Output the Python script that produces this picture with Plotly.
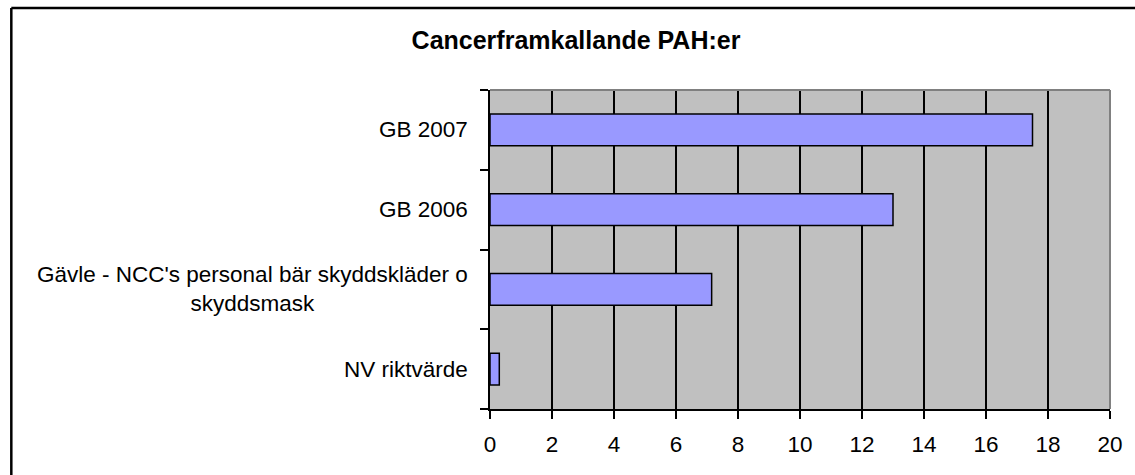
import plotly.graph_objects as go

categories = ["NV riktvärde", "Gävle - NCC's personal bär skyddskläder o<br>skyddsmask", "GB 2006", "GB 2007"]
values = [0.3, 7.15, 13.0, 17.5]
x_ticks = list(range(0, 21, 2))
title_text = "Cancerframkallande PAH:er"

FONT = "Arial, 'Liberation Sans', sans-serif"

fig = go.Figure()
fig.add_trace(go.Bar(
    y=categories, x=values, orientation="h",
    marker=dict(color="#9999FF", line=dict(color="black", width=1.5)),
    hoverinfo="x+y",
))

annotations = []
for c in categories:
    annotations.append(dict(
        x=0, xref="paper", y=c, yref="y", text=c, showarrow=False,
        xanchor="right", yanchor="middle", align="center", xshift=-20,
        font=dict(family=FONT, size=22.5, color="black"),
    ))

bx = (9 - 490) / 623
by = (409 - 8) / 319
shapes = [
    dict(type="line", xref="x domain", yref="y domain", x0=0, x1=1, y0=1, y1=1,
         line=dict(color="#808080", width=2), layer="above"),
    dict(type="line", xref="x domain", yref="y domain", x0=1, x1=1, y0=0, y1=1,
         line=dict(color="#808080", width=2), layer="above"),
    # outer chart frame (only left and top edges fall inside the picture)
    dict(type="line", xref="paper", yref="paper", x0=bx, x1=bx, y0=-0.5, y1=by,
         line=dict(color="black", width=2.5), layer="below"),
    dict(type="line", xref="paper", yref="paper", x0=bx, x1=1.1, y0=by, y1=by,
         line=dict(color="black", width=2.5), layer="below"),
]

fig.update_layout(
    width=1135, height=475,
    margin=dict(l=490, r=22, t=90, b=66),
    paper_bgcolor="white", plot_bgcolor="#C0C0C0",
    showlegend=False, bargap=0.6,
    title=dict(text="<b>" + title_text + "</b>", x=576 / 1135, xanchor="center",
               y=1 - 40 / 475, yanchor="middle", yref="container",
               font=dict(family=FONT, size=25, color="black")),
    font=dict(family=FONT, size=22.5, color="black"),
    annotations=annotations, shapes=shapes,
)
fig.update_xaxes(
    range=[0, 20], tickvals=x_ticks, ticktext=[str(v) for v in x_ticks],
    showgrid=True, gridcolor="black", gridwidth=1.5, zeroline=False,
    showline=True, linecolor="black", linewidth=2,
    ticks="outside", ticklen=8, tickwidth=1.5, tickcolor="black",
    tickfont=dict(family=FONT, size=22.5, color="black"), ticklabelstandoff=6,
    fixedrange=True,
)
fig.update_yaxes(
    type="category", categoryorder="array", categoryarray=categories,
    showticklabels=False, showgrid=False, zeroline=False,
    showline=True, linecolor="black", linewidth=2,
    ticks="outside", ticklen=8, tickwidth=1.5, tickcolor="black", tickson="boundaries",
    fixedrange=True,
)

fig.write_html(
    "out.html",
    config={"displayModeBar": False},
    post_script=("document.body.style.margin='0';"
                 "document.body.style.overflow='hidden';"
                 "document.documentElement.style.overflow='hidden';"),
)
